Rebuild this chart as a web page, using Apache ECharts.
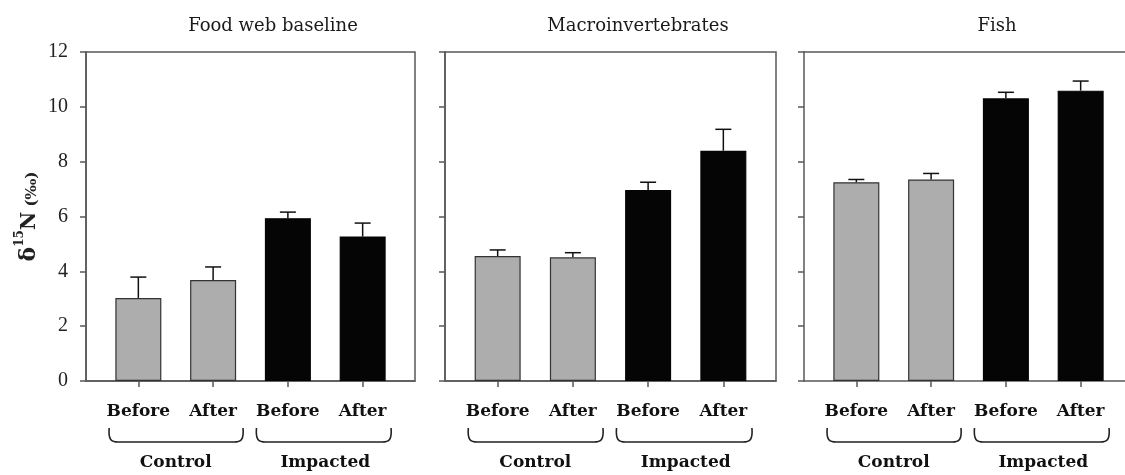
<!DOCTYPE html>
<html>
<head>
<meta charset="utf-8">
<script src="https://cdn.jsdelivr.net/npm/echarts@6/dist/echarts.min.js"></script>
<style>html,body{margin:0;padding:0;background:#fff}#c{width:1125px;height:475px}</style>
</head>
<body>
<div id="c"></div>
<script>
// ---- data ----
var panelTitles = ['Food web baseline', 'Macroinvertebrates', 'Fish'];
var categories = ['Before', 'After', 'Before', 'After'];
var groups = ['Control', 'Impacted'];
var yTicks = [0, 2, 4, 6, 8, 10, 12];
var baselineMeans = [3.03, 3.68, 5.94, 5.27];
var baselineErr   = [0.76, 0.48, 0.22, 0.49];
var macroMeans    = [4.56, 4.51, 6.97, 8.40];
var macroErr      = [0.22, 0.17, 0.28, 0.78];
var fishMeans     = [7.25, 7.35, 10.31, 10.59];
var fishErr       = [0.10, 0.22, 0.22, 0.35];

var means = [baselineMeans, macroMeans, fishMeans];
var errs = [baselineErr, macroErr, fishErr];

// ---- layout/style ----
var gridLefts = [86, 445, 804];
var gridRights = [710, 349, 0];
var xMax = [4.7, 4.7, 4.593];       // last panel is cut off by the picture edge
var showFrame = [true, true, false];
var titleCenters = [268, 633, 992];
var frameColor = '#585858';
var grayFill = '#adadad';
var blackFill = '#050505';
var serif = 'DejaVu Serif';
var catPos = [1, 2, 3, 4];
var groupPos = [1.5, 3.5];
var groupSpan = [[0.61, 2.4], [2.58, 4.38]];

var chart = echarts.init(document.getElementById('c'), null, {renderer: 'canvas'});

var grids = [], xAxes = [], yAxes = [], series = [], titles = [];
var axisIdx = 0;

for (var p = 0; p < 3; p++) {
  grids.push({left: gridLefts[p], right: gridRights[p], top: 52, bottom: 94,
    show: showFrame[p], borderColor: frameColor, borderWidth: 1.5, backgroundColor: 'transparent'});
  titles.push({text: panelTitles[p], left: titleCenters[p], top: 12, textAlign: 'center',
    textStyle: {fontFamily: serif, fontWeight: 'normal', fontSize: 18, color: '#1a1a1a'}});
  var baseX = axisIdx;
  // category positions (value axis so ticks can sit inside the frame)
  xAxes.push({type: 'value', gridIndex: p, min: 0.3, max: xMax[p],
    splitLine: {show: false},
    axisLine: {show: true, lineStyle: {color: frameColor, width: 1.5}},
    axisTick: {show: true, customValues: catPos, length: 6, inside: false, lineStyle: {color: frameColor, width: 1.5}},
    axisLabel: {show: true, customValues: catPos, margin: 22,
      formatter: function (v) { return categories[Math.round(v) - 1] || ''; },
      fontFamily: serif, fontWeight: 'bold', fontSize: 17, color: '#111'}});
  axisIdx++;
  // group labels axis
  xAxes.push({type: 'value', gridIndex: p, min: 0.3, max: xMax[p], position: 'bottom',
    splitLine: {show: false}, axisLine: {show: false}, axisTick: {show: false},
    axisLabel: {show: true, customValues: groupPos, margin: 73,
      formatter: function (v) { return v < 2.5 ? groups[0] : groups[1]; },
      fontFamily: serif, fontWeight: 'bold', fontSize: 17, color: '#111'}});
  axisIdx++;
  if (!showFrame[p]) {
    // top frame line only (right edge lies outside the picture)
    xAxes.push({type: 'value', gridIndex: p, min: 0.3, max: xMax[p], position: 'top',
      splitLine: {show: false}, axisTick: {show: false}, axisLabel: {show: false},
      axisLine: {show: true, lineStyle: {color: frameColor, width: 1.5}}});
    axisIdx++;
  }
  var ya = {type: 'value', gridIndex: p, min: yTicks[0], max: yTicks[yTicks.length - 1], interval: 2,
    splitLine: {show: false},
    axisLine: {show: true, lineStyle: {color: frameColor, width: 1.5}},
    axisTick: {show: true, length: 6, lineStyle: {color: frameColor, width: 1.5}},
    axisLabel: {show: p === 0, margin: 18, fontFamily: 'Liberation Serif', fontSize: 20, color: '#222'}};
  if (p === 0) {
    ya.name = '{d|δ}{s|15}{n|N}{q| (‰)}';
    ya.nameLocation = 'middle';
    ya.nameRotate = 90;
    ya.nameGap = 46;
    ya.nameTextStyle = {fontFamily: serif, color: '#222',
      rich: {
        d: {fontFamily: serif, fontWeight: 'bold', fontSize: 22, lineHeight: 26, verticalAlign: 'bottom'},
        s: {fontFamily: serif, fontWeight: 'bold', fontSize: 12, lineHeight: 12, verticalAlign: 'top'},
        n: {fontFamily: serif, fontWeight: 'bold', fontSize: 20, lineHeight: 26, verticalAlign: 'bottom'},
        q: {fontFamily: serif, fontWeight: 'bold', fontSize: 15, lineHeight: 24, verticalAlign: 'bottom'}
      }};
  }
  yAxes.push(ya);

  var barData = [], errData = [];
  for (var i = 0; i < 4; i++) {
    var isCtrl = i < 2;
    barData.push({value: [catPos[i], means[p][i]],
      itemStyle: {color: isCtrl ? grayFill : blackFill, borderColor: isCtrl ? '#333' : blackFill, borderWidth: 1.2}});
    errData.push([catPos[i], means[p][i], means[p][i] + errs[p][i]]);
  }
  series.push({type: 'bar', xAxisIndex: baseX, yAxisIndex: p, barWidth: 46, data: barData,
    silent: true, animation: false});
  series.push({type: 'custom', xAxisIndex: baseX, yAxisIndex: p, data: errData, animation: false, silent: true, z: 3,
    renderItem: function (params, api) {
      var x = api.value(0);
      var lo = api.coord([x, api.value(1)]);
      var hi = api.coord([x, api.value(2)]);
      var st = {stroke: '#111', lineWidth: 1.5};
      return {type: 'group', children: [
        {type: 'line', shape: {x1: lo[0], y1: lo[1], x2: hi[0], y2: hi[1]}, style: st},
        {type: 'line', shape: {x1: hi[0] - 8, y1: hi[1], x2: hi[0] + 8, y2: hi[1]}, style: st}
      ]};
    }});
  series.push({type: 'custom', xAxisIndex: baseX, yAxisIndex: p, data: groupSpan, animation: false, silent: true, clip: false,
    renderItem: function (params, api) {
      var a = api.coord([api.value(0), 0]);
      var b = api.coord([api.value(1), 0]);
      var top = a[1] + 47, bot = a[1] + 61, r = 9;
      var d = 'M' + (a[0]) + ' ' + top +
        ' C' + (a[0] - 1) + ' ' + (bot - 2) + ' ' + (a[0] + 2) + ' ' + bot + ' ' + (a[0] + r) + ' ' + bot +
        ' L' + (b[0] - r) + ' ' + bot +
        ' C' + (b[0] - 2) + ' ' + bot + ' ' + (b[0] + 1) + ' ' + (bot - 2) + ' ' + b[0] + ' ' + top;
      return {type: 'path', shape: {pathData: d}, style: {stroke: '#222', lineWidth: 1.6, fill: null}};
    }});
}

chart.setOption({
  animation: false,
  backgroundColor: '#fff',
  title: titles,
  grid: grids,
  xAxis: xAxes,
  yAxis: yAxes,
  series: series
});
</script>
</body>
</html>
